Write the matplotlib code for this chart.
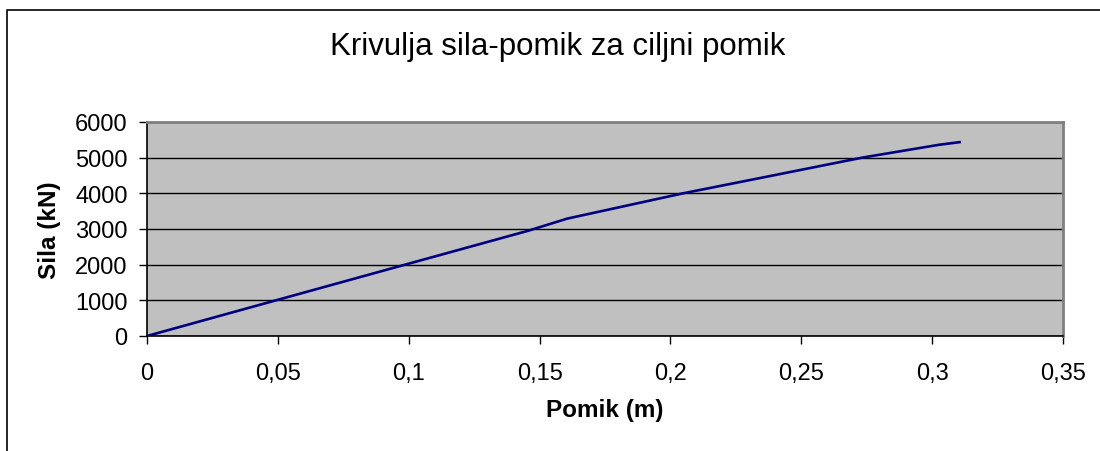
import matplotlib.pyplot as plt
from matplotlib.lines import Line2D

plt.rcParams['font.family'] = ['Liberation Sans', 'DejaVu Sans']

# pushover curve
pomik = [0.0, 0.05, 0.0986, 0.1456, 0.1605, 0.2048, 0.235, 0.2732, 0.3025, 0.311]
sila = [0, 1015, 2000, 2950, 3290, 4000, 4440, 5000, 5360, 5440]

x_ticks = [0, 0.05, 0.1, 0.15, 0.2, 0.25, 0.3, 0.35]
x_labels = ['0', '0,05', '0,1', '0,15', '0,2', '0,25', '0,3', '0,35']
y_ticks = [0, 1000, 2000, 3000, 4000, 5000, 6000]
y_labels = ['0', '1000', '2000', '3000', '4000', '5000', '6000']

fig = plt.figure(figsize=(11, 4.52), dpi=100)
ax = fig.add_axes([147 / 1100, 1 - 337 / 452, (1063 - 147) / 1100, (337 - 123) / 452])
ax.set_facecolor('#c0c0c0')

ax.plot(pomik, sila, color='#000080', lw=1.9, solid_capstyle='butt', zorder=3)

ax.set_xlim(0, 0.35)
ax.set_ylim(0, 6000)
ax.set_xticks(x_ticks)
ax.set_xticklabels(x_labels)
ax.set_yticks(y_ticks)
ax.set_yticklabels(y_labels)

ax.yaxis.grid(True, color='black', lw=1.0)
ax.set_axisbelow(True)

ax.spines['left'].set_color('black')
ax.spines['bottom'].set_color('black')
ax.spines['top'].set_color('#808080')
ax.spines['right'].set_color('#808080')
for s in ['left', 'bottom']:
    ax.spines[s].set_linewidth(1.2)
for s in ['top', 'right']:
    ax.spines[s].set_linewidth(2.0)

ax.tick_params(axis='x', direction='out', length=6, width=1, pad=13, labelsize=17)
ax.tick_params(axis='y', direction='out', length=6, width=1, pad=8, labelsize=17)

ax.set_xlabel('Pomik (m)', fontsize=17.5, fontweight='bold', labelpad=10)
ax.set_ylabel('Sila (kN)', fontsize=17.5, fontweight='bold', labelpad=10)

fig.text(558 / 1100, 1 - 47 / 452, 'Krivulja sila-pomik za ciljni pomik',
         fontsize=22.5, ha='center', va='center')

# outer chart frame (cropped on right/bottom)
fx = 7 / 1100
fy = 1 - 11 / 452
fig.add_artist(Line2D([fx, fx, 1], [0, fy, fy], transform=fig.transFigure,
                      color='black', lw=1.2))

fig.savefig('out.png', dpi=100)
